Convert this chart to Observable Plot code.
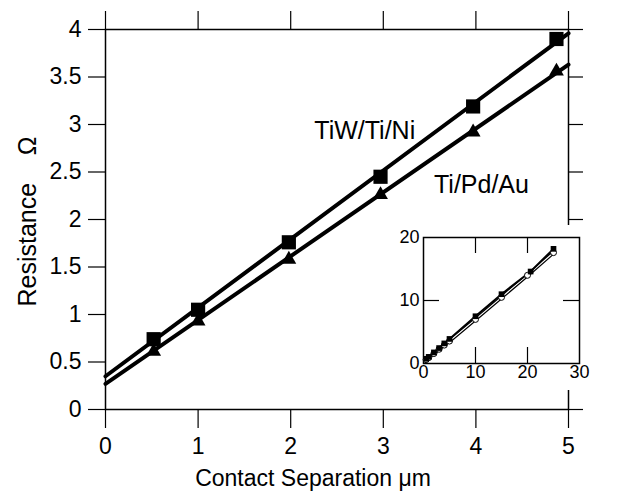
<!DOCTYPE html>
<html>
<head>
<meta charset="utf-8">
<script src="https://cdn.jsdelivr.net/npm/d3@7"></script>
<script src="https://cdn.jsdelivr.net/npm/@observablehq/plot@0.6"></script>
<style>
  html, body { margin: 0; padding: 0; background: #fff; }
  #wrap { position: relative; width: 644px; height: 497px; }
  #inset { position: absolute; left: 380px; top: 225px; }
</style>
</head>
<body>
<div id="wrap"><div id="main"></div><div id="inset"></div></div>
<script>
// ---- main chart data ----
const xTicks = [0, 1, 2, 3, 4, 5];
const yTicks = [0, 0.5, 1, 1.5, 2, 2.5, 3, 3.5, 4];
const separation = [0.52, 1.0, 1.98, 2.97, 3.97, 4.87];
const tiwResistance = [0.74, 1.05, 1.76, 2.45, 3.19, 3.90];
const tipdResistance = [0.61, 0.93, 1.58, 2.26, 2.92, 3.56];
const fitX = [0, 5];
const tiwFit = [0.35, 3.96];
const tipdFit = [0.27, 3.63];
const seriesNames = ["TiW/Ti/Ni", "Ti/Pd/Au"];
const seriesLabelX = [2.8, 4.06];
const seriesLabelY = [2.93, 2.36];

// ---- inset data ----
const insetXTicks = [0, 10, 20, 30];
const insetYTicks = [0, 10, 20];
const insetSep = [0.5, 1, 2, 3, 4, 5, 10, 15, 20.6, 25];
const insetTiw = [0.74, 1.05, 1.76, 2.45, 3.19, 3.9, 7.5, 11, 14.6, 18.2];
const insetSepB = [0.5, 1, 2, 3, 4, 5, 10, 15, 20, 25];
const insetTipd = [0.61, 0.93, 1.58, 2.26, 2.92, 3.56, 7, 10.5, 14, 17.6];

const FONT = "'Liberation Sans', Arial, sans-serif";
const fmt = d => String(d);

const tiw = separation.map((x, i) => ({x, y: tiwResistance[i]}));
const tipd = separation.map((x, i) => ({x, y: tipdResistance[i]}));
const tiwLine = fitX.map((x, i) => ({x, y: tiwFit[i]}));
const tipdLine = fitX.map((x, i) => ({x, y: tipdFit[i]}));
const labels = seriesNames.map((t, i) => ({t, x: seriesLabelX[i], y: seriesLabelY[i]}));

const main = Plot.plot({
  width: 644, height: 497,
  marginLeft: 105, marginRight: 76, marginTop: 29, marginBottom: 88,
  x: {domain: [0, 5]},
  y: {domain: [0, 4]},
  style: {fontFamily: FONT, fontSize: "22px", color: "black", background: "white", overflow: "visible"},
  marks: [
    Plot.axisX(xTicks, {anchor: "bottom", tickSize: 19, tickPadding: 9, label: null, fontSize: 23, tickFormat: fmt, strokeWidth: 1.2}),
    Plot.axisX(xTicks, {anchor: "top", tickSize: 19, tickFormat: () => "", label: null, strokeWidth: 1.2}),
    Plot.axisY(yTicks, {anchor: "left", tickSize: 17, tickPadding: 7, label: null, fontSize: 23, tickFormat: fmt, strokeWidth: 1.2}),
    Plot.axisY(yTicks, {anchor: "right", tickSize: 14, tickFormat: () => "", label: null, strokeWidth: 1.2}),
    Plot.frame({stroke: "black", strokeWidth: 1.5}),
    Plot.line(tiwLine, {x: "x", y: "y", stroke: "black", strokeWidth: 4}),
    Plot.line(tipdLine, {x: "x", y: "y", stroke: "black", strokeWidth: 4}),
    Plot.dot(tiw, {x: "x", y: "y", symbol: "square", r: 8, fill: "black"}),
    Plot.dot(tipd, {x: "x", y: "y", symbol: "triangle", r: 5.5, fill: "black"}),
    Plot.text(labels, {x: "x", y: "y", text: "t", fontSize: 25, fill: "black"}),
    Plot.text(["Contact Separation μm"], {frameAnchor: "bottom", lineAnchor: "middle", textAnchor: "middle", dx: -24, dy: 69, fontSize: 23, fill: "black"}),
    Plot.text(["Resistance    Ω"], {frameAnchor: "left", lineAnchor: "middle", textAnchor: "middle", dx: -78, dy: 2, rotate: -90, fontSize: 25, fill: "black"})
  ]
});
document.getElementById("main").appendChild(main);

const iTiw = insetSep.map((x, i) => ({x, y: insetTiw[i]}));
const iTipd = insetSepB.map((x, i) => ({x, y: insetTipd[i]}));

const inset = Plot.plot({
  width: 215, height: 165,
  marginLeft: 43, marginRight: 16, marginTop: 12, marginBottom: 27,
  x: {domain: [0, 30]},
  y: {domain: [0, 20]},
  style: {fontFamily: FONT, fontSize: "18px", color: "black", background: "white", overflow: "visible"},
  marks: [
    Plot.axisX(insetXTicks, {anchor: "bottom", tickSize: 0, tickPadding: 2, label: null, fontSize: 18, tickFormat: fmt}),
    Plot.axisY(insetYTicks, {anchor: "left", tickSize: 0, tickPadding: 4, label: null, fontSize: 18, tickFormat: fmt}),
    Plot.tickX(insetXTicks.slice(1, 3), {x: d => d, insetBottom: 110, stroke: "black", strokeWidth: 1.2}),
    Plot.tickX(insetXTicks.slice(1, 3), {x: d => d, insetTop: 110, stroke: "black", strokeWidth: 1.2}),
    Plot.tickY(insetYTicks.slice(1, 2), {y: d => d, insetRight: 140, stroke: "black", strokeWidth: 1.2}),
    Plot.tickY(insetYTicks.slice(1, 2), {y: d => d, insetLeft: 140, stroke: "black", strokeWidth: 1.2}),
    Plot.frame({stroke: "black", strokeWidth: 1.5}),
    Plot.line(iTipd, {x: "x", y: "y", stroke: "black", strokeWidth: 3.5}),
    Plot.line(iTipd, {x: "x", y: "y", stroke: "white", strokeWidth: 1.2}),
    Plot.line(iTiw, {x: "x", y: "y", stroke: "black", strokeWidth: 2}),
    Plot.dot(iTipd, {x: "x", y: "y", r: 3, fill: "white", stroke: "black", strokeWidth: 1}),
    Plot.dot(iTiw, {x: "x", y: "y", symbol: "square", r: 3.2, fill: "black"})
  ]
});
document.getElementById("inset").appendChild(inset);
</script>
</body>
</html>
